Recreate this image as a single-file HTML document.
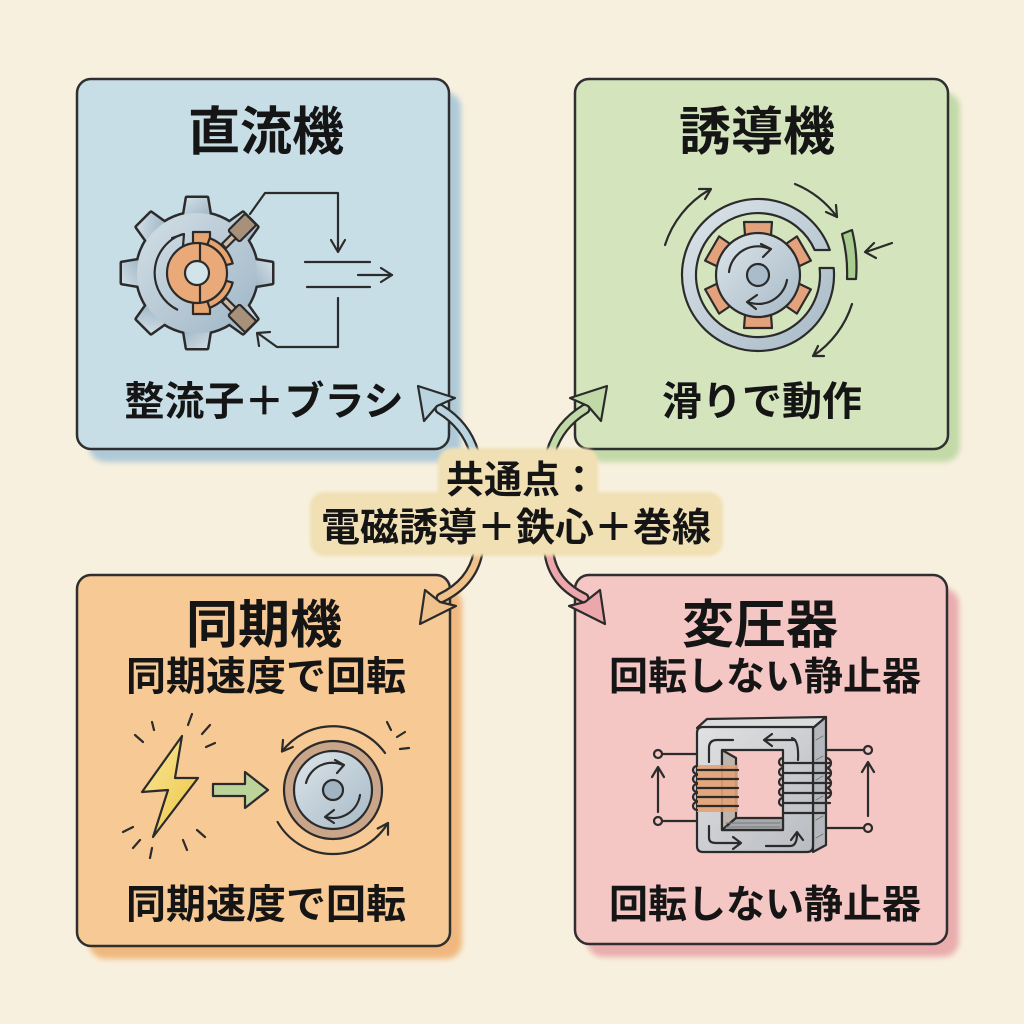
<!DOCTYPE html>
<html><head><meta charset="utf-8">
<style>
html,body{margin:0;padding:0;background:#f8f0de;}
svg{display:block;}
text{font-family:"Liberation Sans","Noto Sans CJK JP",sans-serif;font-weight:700;fill:#151515;text-anchor:middle;}
</style></head>
<body>
<svg width="1024" height="1024" viewBox="0 0 1024 1024" xmlns="http://www.w3.org/2000/svg">
<defs>
  <filter id="sh" x="-10%" y="-10%" width="120%" height="120%"><feGaussianBlur stdDeviation="3"/></filter>
  <filter id="sb" x="-10%" y="-10%" width="120%" height="120%"><feGaussianBlur stdDeviation="1.5"/></filter>
  <linearGradient id="gearG" x1="0" y1="0" x2="1" y2="1">
    <stop offset="0" stop-color="#d3dfe6"/><stop offset="1" stop-color="#9fb6c6"/>
  </linearGradient>
  <linearGradient id="metalG" x1="0" y1="0" x2="1" y2="1">
    <stop offset="0" stop-color="#dde5ea"/><stop offset="1" stop-color="#a6b9c6"/>
  </linearGradient>
  <linearGradient id="boltG" x1="0" y1="0" x2="1" y2="1">
    <stop offset="0" stop-color="#f8e89a"/><stop offset="1" stop-color="#edc443"/>
  </linearGradient>
  <linearGradient id="coreG" x1="0" y1="0" x2="1" y2="1">
    <stop offset="0" stop-color="#e0e1e2"/><stop offset="1" stop-color="#b9bcc1"/>
  </linearGradient>
  <path id="tooth" d="M-13,-57 L-10,-75 L10,-75 L13,-57 Z"/>
</defs>

<rect width="1024" height="1024" fill="#f8f0de"/>

<!-- Panel shadows -->
<rect x="89" y="92" width="372" height="370" rx="16" fill="#aec9d8" filter="url(#sh)"/>
<rect x="587" y="92" width="373" height="370" rx="16" fill="#c2d9a8" filter="url(#sh)"/>
<rect x="89" y="588" width="373" height="371" rx="16" fill="#f0b87e" filter="url(#sh)"/>
<rect x="587" y="588" width="372" height="369" rx="16" fill="#e9adae" filter="url(#sh)"/>

<!-- Panels -->
<rect x="77" y="79" width="372" height="370" rx="14" fill="#c8dee7" stroke="#2f2f2f" stroke-width="2.5"/>
<rect x="575" y="79" width="373" height="370" rx="14" fill="#d4e5bd" stroke="#2f2f2f" stroke-width="2.5"/>
<rect x="77" y="575" width="373" height="371" rx="14" fill="#f6c995" stroke="#2f2f2f" stroke-width="2.5"/>
<rect x="575" y="575" width="372" height="369" rx="14" fill="#f4c6c4" stroke="#2f2f2f" stroke-width="2.5"/>

<!-- ============ TL: DC machine ============ -->
<g stroke="#2b2b2b" stroke-width="2.2" fill="none" stroke-linecap="round" stroke-linejoin="round">
  <path d="M250,214 L265,193 L338,193 L338,251"/>
  <path d="M331,240 L338,252 L345,240"/>
  <path d="M305,262 L370,262 M307,287 L370,287 M358,275 L392,275"/>
  <path d="M381,268 L392,275 L381,282"/>
  <path d="M338,298 L338,347 L277,347 L259,334"/>
  <path d="M259,346 L257,333 L270,332"/>
</g>
<g transform="translate(197,273)">
  <g fill="url(#gearG)" stroke="#2b2b2b" stroke-width="5" stroke-linejoin="round">
    <use href="#tooth"/><use href="#tooth" transform="rotate(45)"/><use href="#tooth" transform="rotate(90)"/><use href="#tooth" transform="rotate(135)"/>
    <use href="#tooth" transform="rotate(180)"/><use href="#tooth" transform="rotate(225)"/><use href="#tooth" transform="rotate(270)"/><use href="#tooth" transform="rotate(315)"/>
    <circle r="60"/>
  </g>
  <g fill="url(#gearG)" stroke="none">
    <use href="#tooth"/><use href="#tooth" transform="rotate(45)"/><use href="#tooth" transform="rotate(90)"/><use href="#tooth" transform="rotate(135)"/>
    <use href="#tooth" transform="rotate(180)"/><use href="#tooth" transform="rotate(225)"/><use href="#tooth" transform="rotate(270)"/><use href="#tooth" transform="rotate(315)"/>
    <circle r="60"/>
  </g>
  <g transform="rotate(45)" stroke="#2b2b2b" stroke-width="2.2">
    <rect x="-3" y="-54" width="6" height="16" fill="#cbbba8"/>
    <rect x="-8" y="-76" width="16" height="24" rx="2" fill="#a8917b"/>
  </g>
  <g transform="rotate(135)" stroke="#2b2b2b" stroke-width="2.2">
    <rect x="-3" y="-54" width="6" height="16" fill="#cbbba8"/>
    <rect x="-8" y="-76" width="16" height="24" rx="2" fill="#a8917b"/>
  </g>
</g>
<g stroke="#2b2b2b" stroke-width="2.2" stroke-linejoin="round">
  <rect x="193" y="232" width="17" height="13" fill="#e6a470"/>
  <rect x="193" y="301" width="17" height="13" fill="#e6a470"/>
  <path d="M207.3,244.8 L209.7,238.2 A37,37 0 0 1 232.7,263.4 L226,265.2 A30 30 0 0 0 207.3 244.8 Z" fill="#e6a470"/>
  <path d="M226,280.8 L232.7,282.6 A37 37 0 0 1 209.7,307.8 L207.3,301.2 A30 30 0 0 0 226,280.8 Z" fill="#e6a470"/>
  <circle cx="197" cy="273" r="30" fill="#eaa979"/>
  <circle cx="197" cy="273" r="12" fill="#d3e3ea"/>
  <path d="M200,243 L200,261 M200,285 L200,303" fill="none"/>
  <path d="M178,310 A41,41 0 0 1 183,234" fill="none"/>
  <path d="M172,238 L184,234 L183,246" fill="none" stroke-linecap="round"/>
</g>

<!-- ============ TR: induction machine ============ -->
<g stroke="#2b2b2b" stroke-width="2.2" stroke-linejoin="round" stroke-linecap="round">
  <path d="M829.8,250 A76 76 0 1 0 833.7,268 L819.6,268 A62 62 0 1 1 814.7,250 Z" fill="url(#metalG)"/>
  <g transform="translate(758,275)" fill="#e3a27c">
    <path d="M-13,-40 L-14,-53 L14,-53 L13,-40 Z"/>
    <path d="M-13,-40 L-14,-53 L14,-53 L13,-40 Z" transform="rotate(60)"/>
    <path d="M-13,-40 L-14,-53 L14,-53 L13,-40 Z" transform="rotate(120)"/>
    <path d="M-13,-40 L-14,-53 L14,-53 L13,-40 Z" transform="rotate(180)"/>
    <path d="M-13,-40 L-14,-53 L14,-53 L13,-40 Z" transform="rotate(240)"/>
    <path d="M-13,-40 L-14,-53 L14,-53 L13,-40 Z" transform="rotate(300)"/>
  </g>
  <circle cx="758" cy="275" r="42" fill="url(#metalG)"/>
  <circle cx="758" cy="275" r="11" fill="#a8bccb"/>
  <g fill="none">
    <path d="M729,272 A29 29 0 0 1 770,249"/>
    <path d="M761,244 L771,249 L763,257"/>
    <path d="M787,280 A29 29 0 0 1 748,302"/>
    <path d="M757,295 L747,302 L756,309"/>
    <path d="M665,245 A98 98 0 0 1 709,190"/>
    <path d="M705,199 L711,189 L699,189"/>
    <path d="M795,184 A98 98 0 0 1 837,217"/>
    <path d="M826,212 L837,217 L836,205"/>
    <path d="M852,304 A98 98 0 0 1 813,356"/>
    <path d="M818,346 L813,356 L824,356"/>
    <path d="M892,243 L866,252"/>
    <path d="M874,243 L865,252 L876,258"/>
  </g>
  <path d="M842,234 L852,230 Q858,254 856,279 L847,279 Q848,256 842,234 Z" fill="#a9cc8f"/>
</g>

<!-- ============ BL: synchronous machine ============ -->
<g stroke="#2b2b2b" stroke-width="2.2" stroke-linejoin="round" stroke-linecap="round" fill="none">
  <path d="M152,722 L154,730 M135,735 L143,742 M192,714 L188,725 M210,725 L202,734 M215,743 L206,747"/>
  <path d="M123,832 L133,827 M133,848 L140,840 M150,858 L152,848 M187,850 L183,840 M205,837 L197,830"/>
  <path d="M387,722 L391,730 M397,737 L405,732 M400,749 L409,748"/>
  <polygon points="182,736 142,792 168,790 153,837 198,778 175,778" fill="url(#boltG)"/>
  <polygon points="213,784 245,784 245,772 268,790 245,808 245,796 213,796" fill="#bcd49c"/>
  <circle cx="333" cy="790" r="49" fill="#c9a68a"/>
  <circle cx="333" cy="790" r="39" fill="url(#metalG)"/>
  <circle cx="333" cy="790" r="10" fill="#a0b4c3"/>
  <path d="M306,783 A27 27 0 0 1 343,765"/>
  <path d="M335,760 L344,765 L337,773"/>
  <path d="M360,795 A27 27 0 0 1 326,817"/>
  <path d="M334,810 L325,817 L334,823"/>
  <path d="M385,753 A64 64 0 0 0 282,751.5"/>
  <path d="M292.8,747 L282,751.5 L283,740"/>
  <path d="M277.6,822 A64 64 0 0 0 387.9,823"/>
  <path d="M388,834.7 L388,823 L377.7,828.5"/>
</g>

<!-- ============ BR: transformer ============ -->
<g stroke="#2b2b2b" stroke-width="2.2" stroke-linejoin="round" stroke-linecap="round">
  <g fill="none">
    <path d="M662,754 L697,754 M662,821 L697,821"/>
    <path d="M658,812 L658,768 M652,777 L658,767 L664,777"/>
    <path d="M826,750 L864,750 M813,828 L864,828"/>
    <path d="M868,816 L868,763 M862,772 L868,762 L874,772"/>
  </g>
  <circle cx="658" cy="754" r="4" fill="#f4c6c4"/>
  <circle cx="658" cy="821" r="4" fill="#f4c6c4"/>
  <circle cx="868" cy="750" r="4" fill="#f4c6c4"/>
  <circle cx="868" cy="828" r="4" fill="#f4c6c4"/>
  <polygon points="697,728 707,719 826,717 813,728" fill="#dcdcdc"/>
  <polygon points="813,728 826,717 826,845 813,852" fill="#b4b7bb"/>
  <path d="M816,740 L823,736 M816,760 L823,756 M816,780 L823,776 M816,800 L823,796 M816,820 L823,816 M816,838 L823,834" fill="none" stroke-width="1" stroke="#777"/>
  <path d="M703,727 L813,727 Q813,727 813,733 L813,846 Q813,852 807,852 L703,852 Q697,852 697,846 L697,733 Q697,727 703,727 Z M722,750 L722,830 L783,830 L783,750 Z" fill="url(#coreG)" fill-rule="evenodd"/>
  <polygon points="722,750 736,758 736,818 722,830" fill="#bdb5ae"/>
  <polygon points="722,830 736,818 783,818 783,830" fill="#a6a8ad"/>
  <path d="M726,823 L780,823 M726,827 L780,827" stroke="#777" stroke-width="1" fill="none"/>
  <rect x="697" y="765" width="41" height="47" fill="#e3a274" stroke="none" opacity="0.9"/>
  <g fill="none">
    <path d="M697,770 L738,770 M697,779 L738,779 M697,788 L738,788 M697,797 L738,797 M697,806 L738,806"/>
    <path d="M697,766 A4 4 0 0 0 697,774 M697,775 A4 4 0 0 0 697,783 M697,784 A4 4 0 0 0 697,792 M697,793 A4 4 0 0 0 697,801 M697,802 A4 4 0 0 0 697,810"/>
    <path d="M783,763 L830,763 M783,773 L830,773 M783,783 L830,783 M783,793 L830,793 M783,803 L830,803 M783,813 L826,813"/>
    <path d="M783,758 A4 4 0 0 0 783,766 M783,768 A4 4 0 0 0 783,776 M783,778 A4 4 0 0 0 783,786 M783,788 A4 4 0 0 0 783,796 M783,798 A4 4 0 0 0 783,806"/>
    <path d="M826,758 A5 5 0 0 1 826,768 M826,768 A5 5 0 0 1 826,778 M826,778 A5 5 0 0 1 826,788 M826,788 A5 5 0 0 1 826,798"/>
    <path d="M709,762 L709,748 Q709,740 717,740 L733,740"/>
    <path d="M795,740 L765,740 M772,734 L764,740 L772,746"/>
    <path d="M792,738 Q799,740 798,760"/>
    <path d="M709,826 L709,838 Q709,843 716,843 L740,843 M733,837 L741,843 L733,849"/>
    <path d="M766,846 L790,846 Q797,846 797,834 M791,840 L797,832 L803,840"/>
  </g>
</g>

<!-- ============ Center arrows ============ -->
<g stroke-linecap="round" fill="none">
  <path d="M474,452 Q466,425 440,409" stroke="#2b2b2b" stroke-width="11"/>
  <path d="M474,452 Q466,425 440,409" stroke="#b9d3df" stroke-width="6.5"/>
  <path d="M551,452 Q559,425 585,409" stroke="#2b2b2b" stroke-width="11"/>
  <path d="M551,452 Q559,425 585,409" stroke="#c0d9a7" stroke-width="6.5"/>
  <path d="M478,553 Q472,583 441,598" stroke="#2b2b2b" stroke-width="11"/>
  <path d="M478,553 Q472,583 441,598" stroke="#f0c28b" stroke-width="6.5"/>
  <path d="M549,553 Q553,583 584,598" stroke="#2b2b2b" stroke-width="11"/>
  <path d="M549,553 Q553,583 584,598" stroke="#eba7ab" stroke-width="6.5"/>
</g>
<g stroke="#2b2b2b" stroke-width="2.2" stroke-linejoin="round">
  <polygon points="418,386 424,421 437,406 455,398" fill="#b9d3df"/>
  <polygon points="607,386 601,421 588,406 570,398" fill="#c0d9a7"/>
  <polygon points="420,624 425,590 440,602 456,606" fill="#f0c28b"/>
  <polygon points="605,624 600,590 585,602 569,606" fill="#eba7ab"/>
</g>

<!-- Center box -->
<g filter="url(#sb)" fill="#f0e0b4">
  <rect x="438" y="448" width="160" height="56" rx="14"/>
  <rect x="310" y="492" width="413" height="64" rx="14"/>
</g>

<!-- Text -->
<text x="266" y="150" font-size="52">直流機</text>
<text x="264" y="415" font-size="40">整流子＋ブラシ</text>
<text x="757" y="150" font-size="52">誘導機</text>
<text x="762" y="415" font-size="40">滑りで動作</text>
<text x="264" y="643" font-size="52">同期機</text>
<text x="266" y="690" font-size="40">同期速度で回転</text>
<text x="266" y="918" font-size="40">同期速度で回転</text>
<text x="760" y="643" font-size="52">変圧器</text>
<text x="765" y="690" font-size="39">回転しない静止器</text>
<text x="765" y="918" font-size="39">回転しない静止器</text>
<text x="522" y="493" font-size="38">共通点：</text>
<text x="516" y="541" font-size="39">電磁誘導＋鉄心＋巻線</text>
</svg>
</body></html>
